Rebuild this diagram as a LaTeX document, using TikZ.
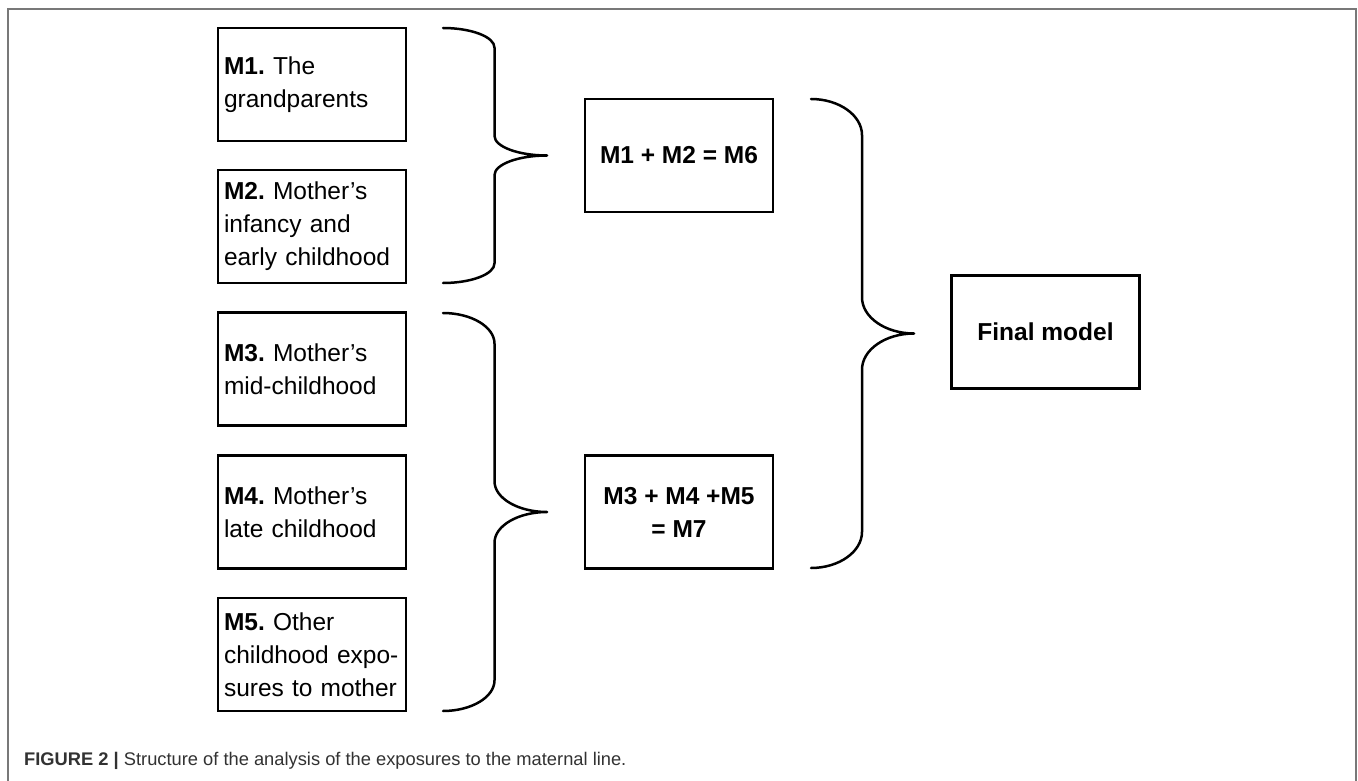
\documentclass[tikz,border=0pt]{standalone}
\usepackage{fontspec}
\setmainfont{Liberation Sans}
\frenchspacing
\definecolor{framecol}{RGB}{120,120,120}
\definecolor{captcol}{RGB}{50,50,50}
\newcommand\drawcurly[5]{%
  \pgfmathsetmacro\cdy{0.077*(#5-#4)}%
  \pgfmathsetmacro\cym{(#4+#5)/2}%
  \draw[bracestyle] (#1,#4) .. controls ({#1+0.55*(#2-#1)},#4) and (#2,{#4+0.45*\cdy}) .. (#2,{#4+\cdy})
    -- (#2,{\cym-\cdy}) .. controls (#2,{\cym-0.45*\cdy}) and ({#3-0.55*(#3-#2)},\cym) .. (#3,\cym)
    .. controls ({#3-0.55*(#3-#2)},\cym) and (#2,{\cym+0.45*\cdy}) .. (#2,{\cym+\cdy})
    -- (#2,{#5-\cdy}) .. controls (#2,{#5-0.45*\cdy}) and ({#1+0.55*(#2-#1)},#5) .. (#1,#5);}
\begin{document}
\frenchspacing
\begin{tikzpicture}[x=1pt,y=-1pt,
  box/.style={draw=black, line width=2.5pt, rectangle, inner sep=0pt,
    minimum width=188pt, minimum height=113pt},
  leftbox/.style={box, text width=176pt, inner xsep=6pt, align=left,
    font=\fontsize{24.5}{33}\selectfont},
  sumbox/.style={box, align=center, font=\fontsize{24.5}{33}\selectfont\bfseries},
  bracestyle/.style={line width=2.5pt, line cap=round, line join=round}]
\useasboundingbox (0,0) rectangle (1358,781);
\fill[white] (0,0) rectangle (1358,781);
% outer frame
\draw[framecol, line width=1.6pt] (8,781) -- (8,9) -- (1356,9) -- (1356,781);
% left column
\node[leftbox] (m1) at (312,84.5) {\textbf{M1.} The\\grandparents};
\node[leftbox] (m2) at (312,226.5) {\textbf{M2.} Mother’s\\infancy and\\early childhood};
\node[leftbox] (m3) at (312,369) {\textbf{M3.} Mother’s\\mid-childhood};
\node[leftbox] (m4) at (312,512) {\textbf{M4.} Mother’s\\late childhood};
\node[leftbox] (m5) at (312,654.5) {\textbf{M5.} Other\\childhood expo-\\sures to mother};
% sum boxes
\node[sumbox] (m6) at (679,155.5) {M1 + M2 = M6};
\node[sumbox] (m7) at (679,512) {M3 + M4 +M5\\= M7};
\node[sumbox] (final) at (1045.5,332) {Final model};
% braces
\drawcurly{443}{494.5}{547}{28}{283}
\drawcurly{443}{494.5}{547}{313}{711}
\drawcurly{811}{862}{914}{99}{568}
% caption
\node[anchor=west, inner sep=0pt, text=captcol, font=\fontsize{18.3}{22}\selectfont] (cap) at (24,761)
  {\textbf{FIGURE 2 |} Structure of the analysis of the exposures to the maternal line.};
\end{tikzpicture}
\end{document}
